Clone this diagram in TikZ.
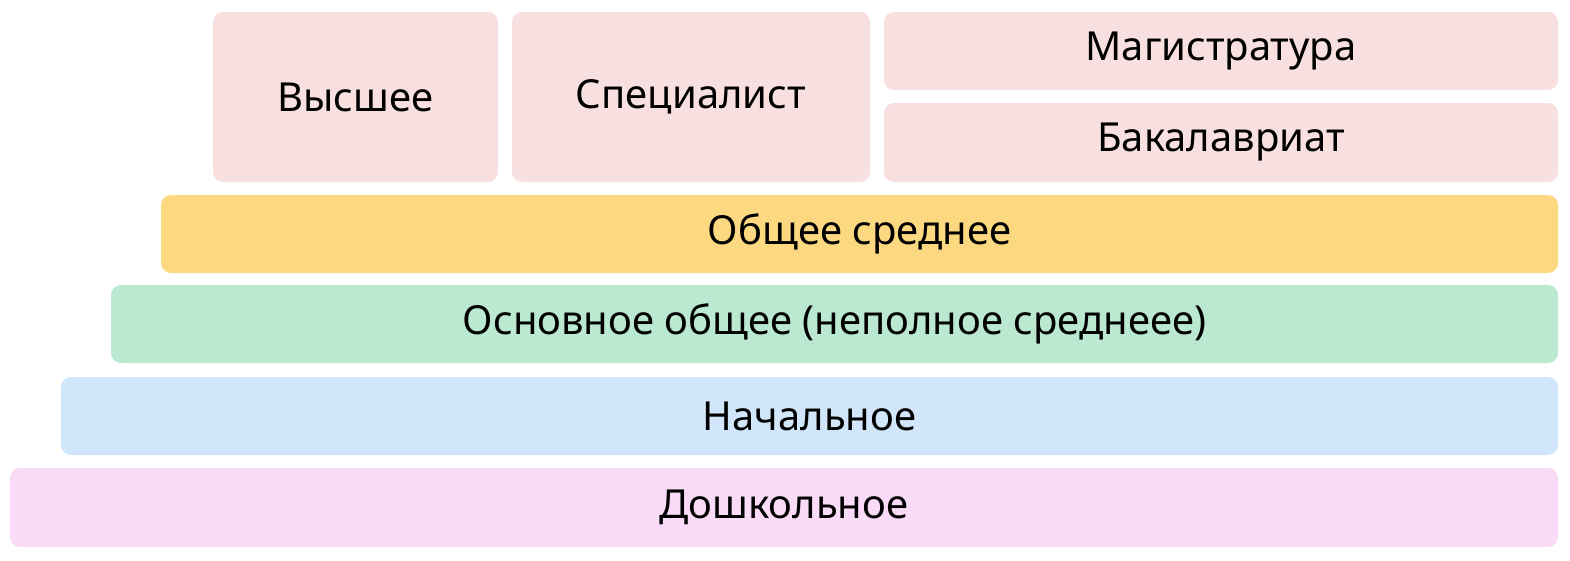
\documentclass[tikz,border=0pt]{standalone}
\usepackage{fontspec}
\setmainfont{Noto Sans}
\definecolor{cpink}{HTML}{F8DFE0}
\definecolor{cyel}{HTML}{FCD980}
\definecolor{cgreen}{HTML}{BAE8D0}
\definecolor{cblue}{HTML}{D1E6FB}
\definecolor{cmag}{HTML}{FADBF7}
\tikzset{lvl/.style={rounded corners=10pt, inner sep=0pt, text=black, font=\fontsize{40}{46}\selectfont}}
\newcommand{\lvlbox}[7]{\node[lvl, fill=#6, minimum width=#3pt-#1pt, minimum height=#4pt-#2pt] (#5) at ({(#1+#3)/2}, {(#2+#4)/2}) {#7};}
\begin{document}
\begin{tikzpicture}[x=1pt, y=-1pt]
\useasboundingbox (0,0) rectangle (1570,560);
\lvlbox{213}{12}{498}{182}{vys}{cpink}{Высшее}
\lvlbox{512}{12}{870}{182}{spec}{cpink}{Специалист}
\lvlbox{884}{12}{1558}{90}{mag}{cpink}{Магистратура}
\lvlbox{884}{103}{1558}{182}{bak}{cpink}{Бакалавриат}
\lvlbox{161}{195}{1558}{273}{obsr}{cyel}{Общее среднее}
\lvlbox{111}{285}{1558}{363}{osn}{cgreen}{Основное общее (неполное среднеее)}
\lvlbox{61}{377}{1558}{455}{nach}{cblue}{Начальное}
\lvlbox{10}{468}{1558}{547}{dosh}{cmag}{Дошкольное}
\end{tikzpicture}
\end{document}
